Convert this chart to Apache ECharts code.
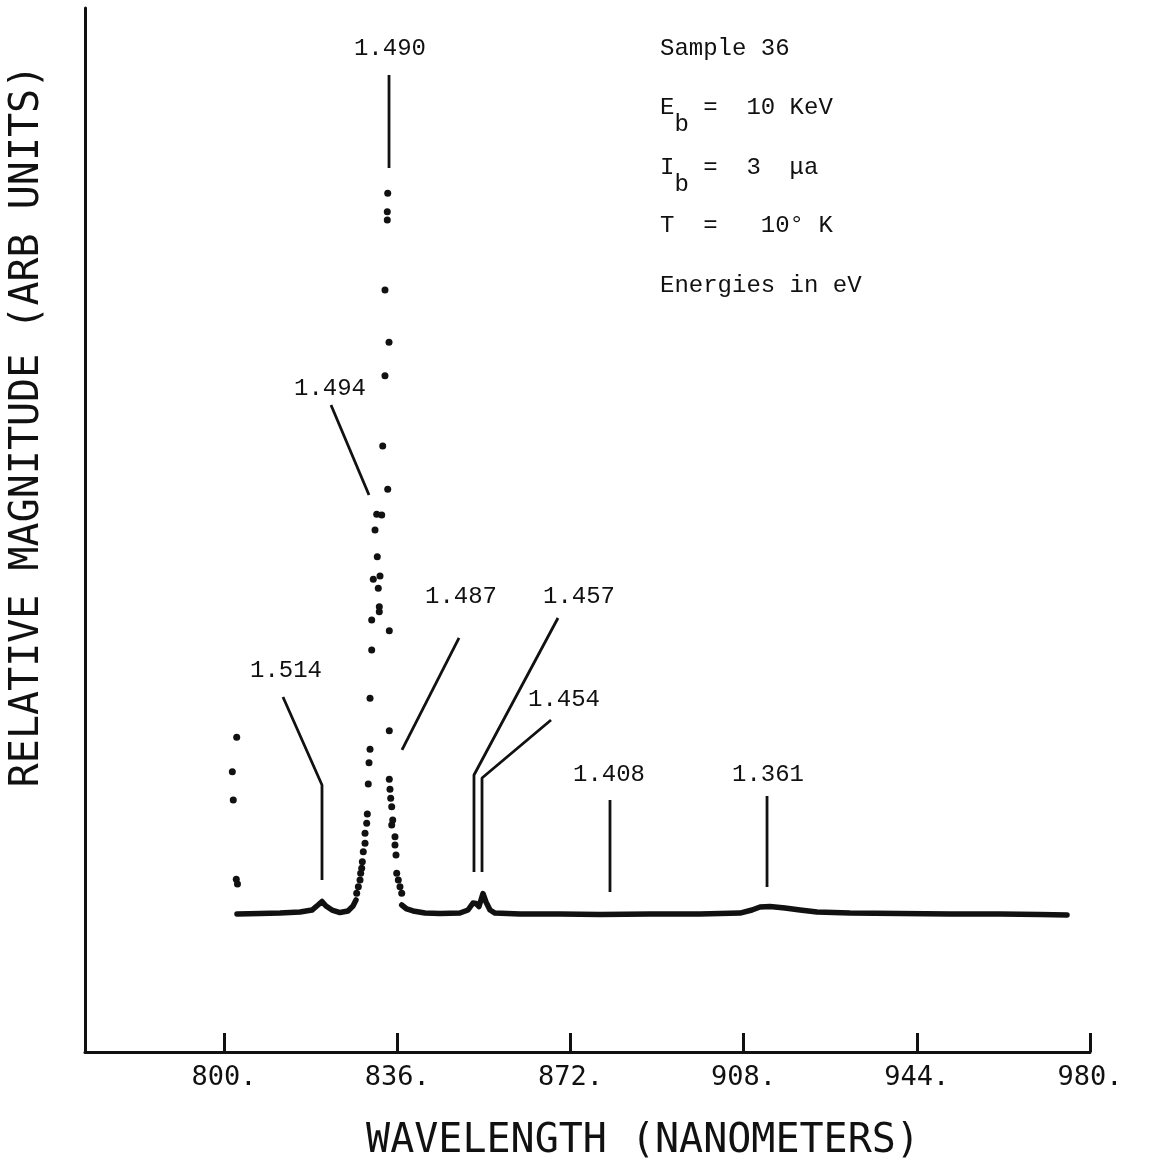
<!DOCTYPE html>
<html>
<head>
<meta charset="utf-8">
<script src="https://cdn.jsdelivr.net/npm/echarts@6/dist/echarts.min.js"></script>
<style>
html,body{margin:0;padding:0;background:#fff;}
#chart{width:1149px;height:1163px;}
</style>
</head>
<body>
<div id="chart"></div>
<script>
// ---- Data (wavelength in nm, magnitude in arbitrary units 0..100) ----
const tickValues = [800, 836, 872, 908, 944, 980];

// continuous trace, left of the main peak
const traceLeftX = [802.70, 807.48, 811.64, 815.80, 818.29, 819.54, 820.37, 821.20, 822.45, 824.11, 825.77, 826.81, 827.44];
const traceLeftY = [13.22, 13.27, 13.31, 13.41, 13.60, 14.08, 14.42, 13.98, 13.60, 13.36, 13.51, 13.98, 14.56];

// continuous trace, right of the main peak
const traceRightX = [836.94, 837.98, 839.29, 841.78, 844.90, 849.05, 850.72, 851.76, 852.38, 853.00, 853.83, 854.46, 855.29, 856.33, 861.53, 869.84, 878.15, 888.55, 898.94, 907.25, 909.75, 911.41, 913.49, 916.61, 919.73, 923.26, 930.12, 940.51, 950.90, 961.30, 969.61, 975.22];
const traceRightY = [14.08, 13.70, 13.51, 13.31, 13.27, 13.31, 13.60, 14.27, 14.22, 13.94, 15.18, 14.37, 13.60, 13.31, 13.22, 13.22, 13.17, 13.22, 13.22, 13.31, 13.60, 13.89, 13.94, 13.79, 13.60, 13.41, 13.31, 13.27, 13.22, 13.22, 13.17, 13.12];

// individual plotted points of the main peak
const peakDotX = [827.58, 827.92, 828.27, 828.41, 828.62, 828.75, 828.95, 829.31, 829.31, 829.66, 829.79, 829.99, 830.14, 830.35, 830.35, 830.70, 830.70, 831.03, 831.86, 831.39, 831.74, 832.78, 832.43, 832.07, 832.28, 832.28,
                  834.03, 833.94, 833.94, 833.46, 834.30, 833.46, 832.99, 834.03, 834.36, 834.36, 834.36, 834.50, 834.65, 834.86, 835.07, 834.86, 835.54, 835.54, 835.75, 835.90, 836.23, 836.58, 836.94];
const peakDotY = [15.20, 15.83, 16.48, 17.12, 17.60, 18.23, 19.19, 19.99, 20.95, 21.91, 22.80, 25.67, 27.71, 28.99, 33.88, 38.51, 41.38, 45.28, 47.44, 50.00, 51.50, 51.44, 45.59, 44.42, 42.65, 42.18,
                  82.25, 80.49, 79.69, 72.99, 67.98, 64.78, 58.05, 53.90, 40.36, 30.78, 26.12, 25.16, 24.30, 23.50, 22.22, 21.74, 20.62, 19.83, 18.87, 17.12, 16.48, 15.83, 15.20];

// stray points at the start of the scan
const edgeDotX = [802.64, 801.73, 801.93, 802.55, 802.80];
const edgeDotY = [30.14, 26.85, 24.14, 16.55, 16.10];

// peak annotations (energies in eV)
const annLabels = ['1.490', '1.494', '1.514', '1.487', '1.457', '1.454', '1.408', '1.361'];
const annTextX  = [834.50, 822.03, 812.89, 849.26, 873.79, 870.67, 880.02, 913.07];
const annTextY  = [96.07, 63.51, 36.49, 43.58, 43.58, 33.72, 26.53, 26.53];
const annPathX  = [[834.30, 834.30], [822.24, 830.14], [812.26, 820.37, 820.37], [848.85, 837.00],
                   [869.42, 851.96, 851.96], [867.97, 853.63, 853.63], [880.23, 880.23], [912.87, 912.87]];
const annPathY  = [[93.58, 84.67], [61.97, 53.35], [34.00, 25.57, 16.48], [39.66, 28.93],
                   [41.57, 26.53, 17.24], [31.80, 26.25, 17.24], [24.14, 15.33], [24.52, 15.80]];

// ---- Build chart ----
const ink = '#111111';
const zip = (xs, ys) => xs.map((x, i) => [x, ys[i]]);

const series = [
  { type: 'line', data: zip(traceLeftX, traceLeftY), showSymbol: false, symbol: 'none',
    lineStyle: { color: ink, width: 5.5, cap: 'round', join: 'round', opacity: 1 }, silent: true },
  { type: 'line', data: zip(traceRightX, traceRightY), showSymbol: false, symbol: 'none',
    lineStyle: { color: ink, width: 5.5, cap: 'round', join: 'round', opacity: 1 }, silent: true },
  { type: 'scatter', data: zip(peakDotX, peakDotY), symbol: 'circle', symbolSize: 7,
    itemStyle: { color: ink, opacity: 1 }, silent: true },
  { type: 'scatter', data: zip(edgeDotX, edgeDotY), symbol: 'circle', symbolSize: 7,
    itemStyle: { color: ink, opacity: 1 }, silent: true }
];

annPathX.forEach((xs, i) => {
  series.push({ type: 'line', data: zip(xs, annPathY[i]), showSymbol: false, symbol: 'none',
    lineStyle: { color: ink, width: 2.8, opacity: 1 }, silent: true });
});

series.push({
  type: 'scatter', symbolSize: 0, silent: true,
  itemStyle: { opacity: 1 },
  data: annLabels.map((l, i) => ({ name: l, value: [annTextX[i], annTextY[i]] })),
  label: { show: true, position: 'inside', formatter: '{b}', color: ink, opacity: 1,
           fontFamily: 'Liberation Mono', fontSize: 24 }
});

const infoStyle = { fill: ink, font: '24px "Liberation Mono"', verticalAlign: 'middle', align: 'left' };
function txt(x, y, s) { return { type: 'text', x: x, y: y, style: Object.assign({ text: s }, infoStyle), silent: true }; }

const graphic = [
  txt(660, 49, 'Sample 36'),
  txt(660, 108, 'E  =  10 KeV'),
  txt(674.4, 125, 'b'),
  txt(660, 168, 'I  =  3  μa'),
  txt(674.4, 185, 'b'),
  txt(660, 226, 'T  =   10° K'),
  txt(660, 286, 'Energies in eV'),
  { type: 'text', x: 643, y: 1142, silent: true,
    style: { text: 'WAVELENGTH (NANOMETERS)', fill: ink, font: '40px "DejaVu Sans Mono"',
             align: 'center', verticalAlign: 'middle' } },
  { type: 'text', x: 28, y: 426, rotation: Math.PI / 2, silent: true,
    style: { text: 'RELATIVE MAGNITUDE (ARB UNITS)', fill: ink, font: '40px "DejaVu Sans Mono"',
             align: 'center', verticalAlign: 'middle' } }
];

const chart = echarts.init(document.getElementById('chart'), null, { renderer: 'canvas' });
chart.setOption({
  animation: false,
  backgroundColor: '#ffffff',
  grid: { left: 85, top: 8, width: 1005, height: 1044, containLabel: false },
  xAxis: {
    type: 'value', min: 771.11, max: 980,
    axisLine: { show: true, onZero: false, lineStyle: { color: ink, width: 3 } },
    axisTick: { show: true, inside: true, length: 19, customValues: tickValues,
                lineStyle: { color: ink, width: 3 } },
    axisLabel: { show: true, customValues: tickValues, margin: 12, color: ink,
                 fontFamily: 'DejaVu Sans Mono', fontSize: 27,
                 formatter: v => v + '.' },
    splitLine: { show: false }
  },
  yAxis: {
    type: 'value', min: 0, max: 100,
    axisLine: { show: true, onZero: false, lineStyle: { color: ink, width: 3 } },
    axisTick: { show: false },
    axisLabel: { show: false },
    splitLine: { show: false }
  },
  series: series,
  graphic: graphic
});
</script>
</body>
</html>
